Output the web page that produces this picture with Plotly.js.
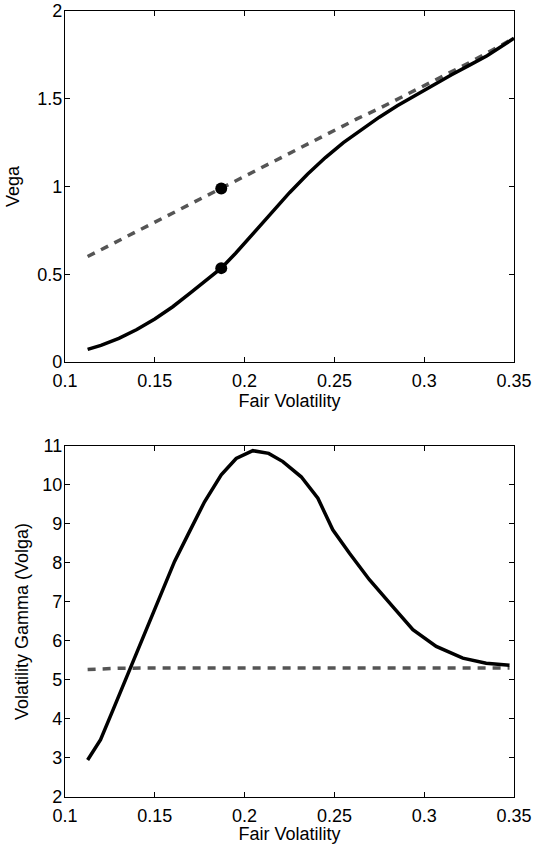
<!DOCTYPE html>
<html>
<head>
<meta charset="utf-8">
<script src="https://cdn.plot.ly/plotly-3.0.1.min.js"></script>
<style>html,body{margin:0;padding:0;background:#fff;}#chart{width:534px;height:844px;}</style>
</head>
<body>
<div id="chart"></div>
<script>
// Top panel: Vega vs fair volatility
const vegaX = [0.1126,0.12,0.13,0.14,0.15,0.16,0.17,0.18,0.187,0.195,0.205,0.215,0.225,0.235,0.245,0.255,0.265,0.275,0.285,0.295,0.305,0.315,0.325,0.335,0.35];
const vegaY = [0.072,0.095,0.135,0.185,0.245,0.315,0.395,0.475,0.535,0.62,0.735,0.855,0.965,1.07,1.165,1.25,1.325,1.395,1.46,1.52,1.58,1.635,1.69,1.745,1.845];
const vegaFlatX = [0.1126,0.125,0.1375,0.15,0.1625,0.175,0.1875,0.2,0.2125,0.225,0.2375,0.25,0.2625,0.275,0.2875,0.3,0.3125,0.325,0.3375,0.35];
const vegaFlatY = [0.601,0.666,0.731,0.796,0.861,0.926,0.991,1.058,1.124,1.189,1.254,1.319,1.385,1.445,1.51,1.57,1.635,1.705,1.775,1.845];
const dotX = [0.187,0.187];
const dotY = [0.535,0.989];

// Bottom panel: Volga vs fair volatility
const volgaX = [0.1126,0.1198,0.1268,0.1341,0.1433,0.1526,0.161,0.1684,0.1777,0.187,0.1953,0.2046,0.2134,0.2213,0.2315,0.2408,0.2491,0.2584,0.2695,0.2825,0.2937,0.3067,0.3215,0.3345,0.3475];
const volgaY = [2.95,3.47,4.24,5.05,6.03,7.05,8.04,8.72,9.57,10.26,10.68,10.88,10.81,10.60,10.21,9.66,8.85,8.25,7.57,6.88,6.29,5.86,5.56,5.43,5.38];
const volgaFlatX = [0.1126,0.12,0.13,0.15,0.2,0.25,0.3,0.3475];
const volgaFlatY = [5.27,5.29,5.30,5.31,5.31,5.31,5.31,5.31];

const xTicks = [0.1,0.15,0.2,0.25,0.3,0.35];
const xTickText = ['0.1','0.15','0.2','0.25','0.3','0.35'];
const y1Ticks = [0,0.5,1,1.5,2];
const y1TickText = ['0','0.5','1','1.5','2'];
const y2Ticks = [2,3,4,5,6,7,8,9,10,11];
const y2TickText = ['2','3','4','5','6','7','8','9','10','11'];

const solid = {color:'#000000', width:3.5};
const dashed = {color:'#555555', width:3.5, dash:'8px,7px'};

const traces = [
  {x:vegaFlatX, y:vegaFlatY, mode:'lines', line:dashed, xaxis:'x', yaxis:'y'},
  {x:vegaX, y:vegaY, mode:'lines', line:solid, xaxis:'x', yaxis:'y'},
  {x:dotX, y:dotY, mode:'markers', marker:{color:'#000', size:12}, xaxis:'x', yaxis:'y'},
  {x:volgaFlatX, y:volgaFlatY, mode:'lines', line:dashed, xaxis:'x2', yaxis:'y2'},
  {x:volgaX, y:volgaY, mode:'lines', line:solid, xaxis:'x2', yaxis:'y2'}
];

const font = {family:'Liberation Sans, Arial, sans-serif', size:18, color:'#000'};
const axBase = {
  showline:true, linecolor:'#000', linewidth:1.2, mirror:'allticks',
  ticks:'inside', ticklen:5, tickwidth:1, tickcolor:'#000',
  showgrid:false, zeroline:false, tickfont:font
};

const layout = {
  width:534, height:844,
  margin:{l:65, r:20, t:11, b:47},
  paper_bgcolor:'#fff', plot_bgcolor:'#fff',
  showlegend:false, font:font,
  xaxis: Object.assign({}, axBase, {domain:[0,1], range:[0.1,0.35], tickvals:xTicks, ticktext:xTickText, anchor:'y',
    ticklabelstandoff:2, title:{text:'Fair Volatility', font:font, standoff:0}}),
  yaxis: Object.assign({}, axBase, {domain:[0.5534,1], range:[0,2], tickvals:y1Ticks, ticktext:y1TickText, anchor:'x',
    ticklabelstandoff:-2, title:{text:'Vega', font:font, standoff:12}}),
  xaxis2: Object.assign({}, axBase, {domain:[0,1], range:[0.1,0.35], tickvals:xTicks, ticktext:xTickText, anchor:'y2',
    ticklabelstandoff:2, title:{text:'Fair Volatility', font:font, standoff:0}}),
  yaxis2: Object.assign({}, axBase, {domain:[0,0.4466], range:[2,11], tickvals:y2Ticks, ticktext:y2TickText, anchor:'x2',
    ticklabelstandoff:-2, title:{text:'Volatility Gamma (Volga)', font:font, standoff:8}})
};

Plotly.newPlot('chart', traces, layout, {staticPlot:true, displayModeBar:false});
</script>
</body>
</html>
